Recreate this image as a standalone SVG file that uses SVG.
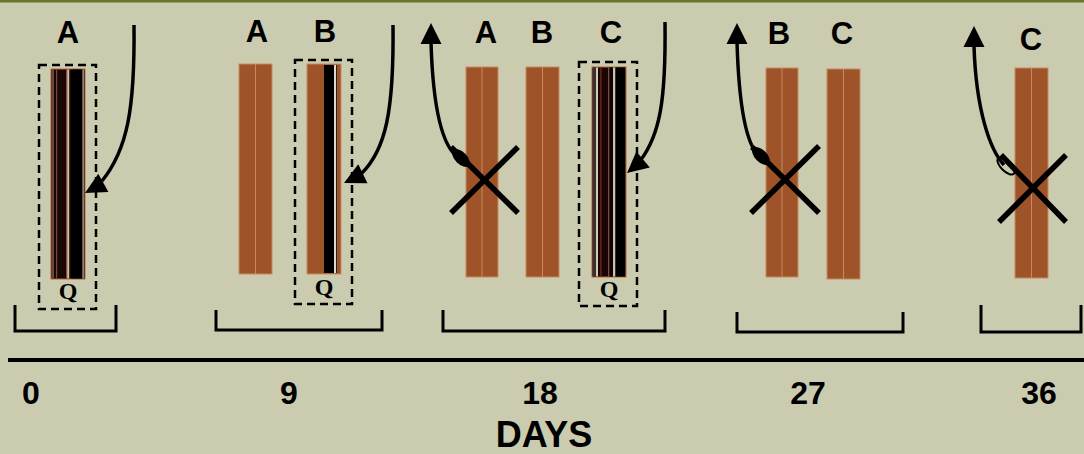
<svg xmlns="http://www.w3.org/2000/svg" xmlns:xlink="http://www.w3.org/1999/xlink" width="1084" height="454" viewBox="0 0 1084 454">
<style>
.lbl{font-family:"Liberation Sans",Arial,sans-serif;font-weight:bold;font-size:31px;fill:#000;text-anchor:middle}
.q{font-family:"Liberation Serif","Times New Roman",serif;font-weight:bold;font-size:24px;fill:#000;text-anchor:middle}
.num{font-family:"Liberation Sans",Arial,sans-serif;font-weight:bold;font-size:32px;fill:#000;text-anchor:middle}
.bar{fill:#9E5428;stroke:#C88A60;stroke-width:1}
.div{stroke:#C88A60;stroke-width:1}
.box{fill:none;stroke:#000;stroke-width:2.5;stroke-dasharray:8 5}
.brk{fill:none;stroke:#000;stroke-width:3}
.cross{stroke:#000;stroke-width:5.5}
.conn{fill:none;stroke:#000;stroke-width:3.5}
</style>
<defs>
<polygon id="head" points="0,0 -21,-10.5 -21,10.5" fill="#000"/>
</defs>
<rect x="0" y="0" width="1084" height="454" fill="#CBCCAF"/>
<rect x="0" y="0" width="1084" height="2.5" fill="#67752A"/>

<!-- Day 0 -->
<g id="day0-A">
<text class="lbl" x="68" y="43">A</text>
<rect x="51" y="69" width="34" height="210" fill="#1A0806" stroke="#B8683A" stroke-width="1"/>
<rect x="52" y="69.5" width="2" height="209" fill="#6A4A40"/>
<rect x="56" y="69.5" width="1.2" height="209" fill="#7A4A3A"/>
<rect x="66" y="69.5" width="1.2" height="209" fill="#8A4A30"/>
<rect x="67.2" y="69.5" width="2" height="209" fill="#CDBFA8"/>
<rect x="71" y="69.5" width="11" height="209" fill="#000"/>
<rect x="82.5" y="69.5" width="1.2" height="209" fill="#B8B0A8"/>
<rect x="39" y="65" width="57" height="244" class="box"/>
<text class="q" x="68" y="299">Q</text>
</g>

<!-- Day 9 -->
<g id="day9-A">
<text class="lbl" x="257" y="42">A</text>
<rect x="239" y="64" width="33" height="210" class="bar"/>
<line x1="255.5" y1="64" x2="255.5" y2="274" class="div"/>
</g>
<g id="day9-B">
<text class="lbl" x="325" y="42">B</text>
<rect x="307" y="64" width="34" height="210" class="bar"/>
<rect x="324" y="65" width="10" height="208" fill="#000"/>
<rect x="334" y="65" width="2" height="208" fill="#E0D8D0"/>
<rect x="336" y="65" width="1" height="208" fill="#302018"/>
<rect x="295" y="60" width="57" height="244" class="box"/>
<text class="q" x="324" y="295">Q</text>
</g>

<!-- Day 18 -->
<g id="day18-A">
<text class="lbl" x="486" y="43">A</text>
<rect x="466" y="67" width="32" height="210" class="bar"/>
<line x1="482" y1="67" x2="482" y2="277" class="div"/>
<line x1="451" y1="147" x2="518" y2="213" class="cross"/>
<line x1="451" y1="213" x2="518" y2="147" class="cross"/>
</g>
<g id="day18-B">
<text class="lbl" x="542" y="43">B</text>
<rect x="526" y="67" width="33" height="210" class="bar"/>
<line x1="542.5" y1="67" x2="542.5" y2="277" class="div"/>
</g>
<g id="day18-C">
<text class="lbl" x="611" y="43">C</text>
<rect x="592" y="67" width="34" height="210" fill="#1A0504" stroke="#B8683A" stroke-width="1"/>
<rect x="593" y="67.5" width="3" height="209" fill="#3A3030"/>
<rect x="596" y="67.5" width="2" height="209" fill="#CFC6BC"/>
<rect x="600" y="67.5" width="1.8" height="209" fill="#5A2010"/>
<rect x="608" y="67.5" width="1.5" height="209" fill="#8A4A30"/>
<rect x="609.5" y="67.5" width="3.5" height="209" fill="#05050F"/>
<rect x="613" y="67.5" width="2.5" height="209" fill="#D0C0A8"/>
<rect x="615.5" y="67.5" width="9.5" height="209" fill="#000"/>
<rect x="579" y="62" width="58" height="244" class="box"/>
<text class="q" x="609" y="297">Q</text>
</g>

<!-- Day 27 -->
<g id="day27-B">
<text class="lbl" x="779" y="44">B</text>
<rect x="766" y="68" width="32" height="209" class="bar"/>
<line x1="782" y1="68" x2="782" y2="277" class="div"/>
<line x1="752" y1="147" x2="819" y2="213" class="cross"/>
<line x1="751" y1="213" x2="819" y2="146" class="cross"/>
</g>
<g id="day27-C">
<text class="lbl" x="842" y="44">C</text>
<rect x="827" y="69" width="33" height="210" class="bar"/>
<line x1="843.5" y1="69" x2="843.5" y2="279" class="div"/>
</g>

<!-- Day 36 -->
<g id="day36-C">
<text class="lbl" x="1031" y="50">C</text>
<rect x="1015" y="68" width="33" height="210" class="bar"/>
<line x1="1031.5" y1="68" x2="1031.5" y2="278" class="div"/>
<line x1="1001" y1="155" x2="1066" y2="222" class="cross"/>
<line x1="999" y1="222" x2="1066" y2="155" class="cross"/>
</g>

<!-- Brackets -->
<g id="brackets">
<path class="brk" d="M15,305 V331 H116 V305"/>
<path class="brk" d="M216,310 V330 H382 V310"/>
<path class="brk" d="M443,310 V331 H665 V310"/>
<path class="brk" d="M737,312 V332 H903 V312"/>
<path class="brk" d="M981,305 V332 H1081 V305"/>
</g>

<!-- Connectors -->
<g id="connectors">
<path class="conn" d="M134,25 C135,110 127,150 102,181"/>
<use xlink:href="#head" href="#head" transform="translate(85,193) rotate(151)"/>
<path class="conn" d="M393,25 C394,110 386,150 361,174"/>
<use xlink:href="#head" href="#head" transform="translate(344,183) rotate(154)"/>
<path class="conn" d="M665,22 C666,100 660,135 640,161"/>
<use xlink:href="#head" href="#head" transform="translate(627,173) rotate(140)"/>

<path class="conn" d="M459,158 C443,148 433,110 431,42"/>
<use xlink:href="#head" href="#head" transform="translate(431,23) rotate(-90)"/>
<ellipse cx="461" cy="158" rx="11" ry="6" transform="rotate(45 461 158)" fill="#000"/>

<path class="conn" d="M759,156 C747,145 739,110 737,42"/>
<use xlink:href="#head" href="#head" transform="translate(737,23) rotate(-90)"/>
<ellipse cx="761" cy="156" rx="11" ry="6" transform="rotate(45 761 156)" fill="#000"/>

<path class="conn" d="M1004,165 C990,150 976,110 974,46"/>
<use xlink:href="#head" href="#head" transform="translate(974,26) rotate(-90)"/>
<ellipse cx="1006" cy="166" rx="11" ry="5" transform="rotate(45 1006 166)" fill="none" stroke="#000" stroke-width="2"/>
</g>

<!-- Axis -->
<g id="axis">
<line x1="8" y1="360" x2="1084" y2="360" stroke="#000" stroke-width="4"/>
<text class="num" x="31" y="404">0</text>
<text class="num" x="289" y="404">9</text>
<text class="num" x="540" y="404">18</text>
<text class="num" x="808" y="404">27</text>
<text class="num" x="1039" y="404">36</text>
<text class="num" x="544" y="447" style="font-size:36px">DAYS</text>
</g>
</svg>
